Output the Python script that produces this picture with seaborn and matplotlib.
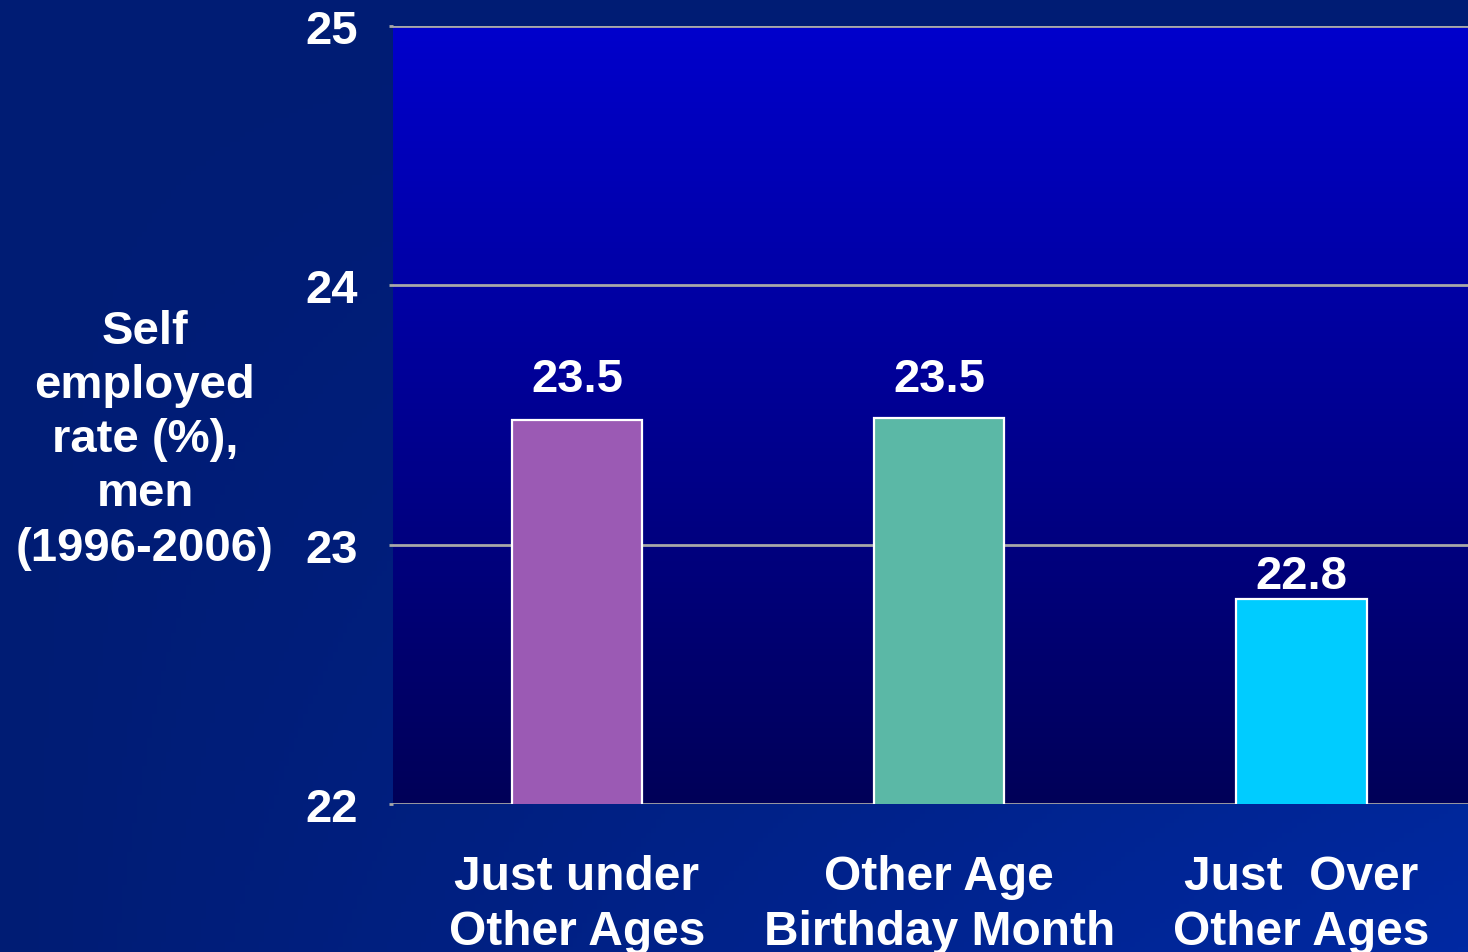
import numpy as np
import pandas as pd
import matplotlib
matplotlib.use('Agg')
import matplotlib.pyplot as plt
from matplotlib.colors import LinearSegmentedColormap
import seaborn as sns

# 数据
categories = ['Just under\nOther Ages', 'Other Age\nBirthday Month', 'Just  Over\nOther Ages']
rates = [23.48, 23.49, 22.79]
bar_colors = ['#9B5AB4', '#5BB8A6', '#00CCFF']
y_ticks = [22, 23, 24, 25]
y_label = 'Self\nemployed\nrate (%),\nmen\n(1996-2006)'
label_pads = [14, 12, 1]

sns.set_theme(style='white')
plt.rcParams['font.family'] = ['Liberation Sans', 'DejaVu Sans']
plt.rcParams['font.weight'] = 'bold'

df = pd.DataFrame({'group': categories, 'rate': rates})

fig = plt.figure(figsize=(14.68, 9.53), dpi=100)

# 背景渐变（右下角偏亮）
bg = fig.add_axes([0, 0, 1, 1], zorder=-10)
gx, gy = np.meshgrid(np.linspace(0, 1, 300), np.linspace(0, 1, 200))
t = np.clip(gx * gy, 0, 1)
bg_cmap = LinearSegmentedColormap.from_list('bg', ['#001C74', '#0029A2'])
bg.imshow(t, cmap=bg_cmap, aspect='auto', extent=[0, 1, 0, 1], origin='upper')
bg.set_axis_off()

ax = fig.add_axes([393 / 1468, 1 - 805 / 953, 1 - 393 / 1468, (805 - 27) / 953])

# 绘图区渐变
plot_cmap = LinearSegmentedColormap.from_list('plot', ['#0000CC', '#000058'])
grad = np.linspace(0, 1, 256).reshape(-1, 1)
ax.imshow(grad, cmap=plot_cmap, aspect='auto', extent=[0, 1, 0, 1],
          transform=ax.transAxes, zorder=0, origin='upper')

sns.barplot(data=df, x='group', y='rate', hue='group', palette=bar_colors,
            saturation=1, legend=False, width=0.36, edgecolor='white',
            linewidth=1.6, ax=ax, zorder=3)

ax.set_ylim(22, 25)
ax.set_xlim(-0.508, 2.46)
ax.set_yticks(y_ticks)
ax.set_yticklabels([str(v) for v in y_ticks])
ax.yaxis.grid(True, color='#A8A8A8', linewidth=2)
ax.set_axisbelow(True)
for gl in ax.get_ygridlines():
    gl.set_zorder(1)

for c, p in zip(ax.containers, label_pads):
    ax.bar_label(c, fmt='%.1f', padding=p, color='white', fontsize=34,
                 fontweight='bold')

ax.tick_params(axis='y', colors='white', labelsize=34, pad=22, length=3, width=2,
               color='#A8A8A8', left=True)
ax.tick_params(axis='x', colors='white', labelsize=34.5, pad=36, length=0)
for lab in ax.get_xticklabels():
    lab.set_linespacing(1.3)
for lab in ax.get_xticklabels() + ax.get_yticklabels():
    lab.set_fontweight('bold')

ax.set_xlabel('')
ax.set_ylabel(y_label, rotation=0, color='white', fontsize=34, fontweight='bold',
              ha='center', va='center', linespacing=1.3)
ax.yaxis.set_label_coords(-0.2307, 0.469)

for s in ax.spines.values():
    s.set_visible(False)

fig.savefig('out.png', dpi=100)
